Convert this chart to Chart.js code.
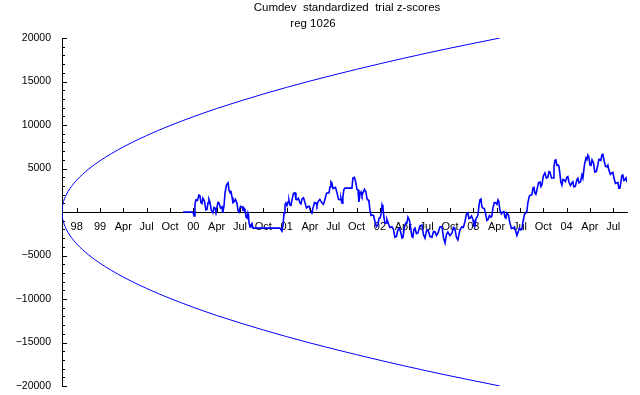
<!DOCTYPE html>
<html>
<head>
<meta charset="utf-8">
<script src="https://cdn.jsdelivr.net/npm/chart.js@4.4.0/dist/chart.umd.min.js"></script>
<style>
    body { margin: 0; background: #fff; }
</style>
</head>
<body>
<canvas id="myChart" width="640" height="395"></canvas>
<script>
// x axis runs in label steps: 0 = "98", 1 = "99", 2 = "Apr", ...
const quarterLabels = ['98', '99', 'Apr', 'Jul', 'Oct', '00', 'Apr', 'Jul', 'Oct', '01', 'Apr', 'Jul', 'Oct',
    '02', 'Apr', 'Jul', 'Oct', '03', 'Apr', 'Jul', 'Oct', '04', 'Apr', 'Jul'];
const yTicks = [-20000, -15000, -10000, -5000, 5000, 10000, 15000, 20000];

// probability envelope
const envX = [-0.6286, -0.62, -0.60, -0.55, -0.45, -0.3, 0, 0.5, 1, 2, 3, 4, 5, 6, 8, 10, 12, 14, 16, 18.14];
const envUpper = [0, 430, 780, 1290, 1950, 2650, 3660, 4900, 5890, 7480, 8790, 9930, 10950, 11890, 13560, 15050, 16400, 17660, 18830, 20000];
const envLower = [0, -430, -780, -1290, -1950, -2650, -3660, -4900, -5890, -7480, -8790, -9930, -10950, -11890, -13560, -15050, -16400, -17660, -18830, -20000];

// cumulative deviation (one line of x per line of y)
const walkX = [
    4.56, 4.99, 5.03, 5.07, 5.11, 5.175, 5.24, 5.285, 5.33, 5.37, 5.41, 5.475, 5.54, 5.585, 5.63, 5.67, 5.71, 5.775,
    5.84, 5.885, 5.93, 5.97, 6.01, 6.055, 6.10, 6.165, 6.23, 6.25, 6.27, 6.315, 6.36, 6.425, 6.49, 6.53, 6.57, 6.615, 6.66, 6.70,
    6.74, 6.805, 6.87, 6.915, 6.96, 7.025, 7.09, 7.13, 7.17, 7.215, 7.26, 7.30, 7.34, 7.365, 7.39, 7.43, 7.47, 7.515, 7.56,
    8.71, 8.80, 8.845, 8.89, 8.93, 8.97, 9.015, 9.06, 9.10, 9.14, 9.185, 9.23, 9.295, 9.36, 9.40, 9.44, 9.505, 9.57, 9.615,
    9.66, 9.725, 9.79, 9.85, 9.91, 9.975, 10.04, 10.085, 10.13, 10.195, 10.26, 10.30, 10.34, 10.425, 10.51, 10.575, 10.64, 10.705, 10.77, 10.815,
    10.86, 10.90, 10.94, 10.985, 11.03, 11.095, 11.16, 11.225, 11.29, 11.33, 11.37, 11.39, 11.41, 11.455, 11.50, 11.80, 11.84, 11.905,
    11.97, 12.015, 12.06, 12.10, 12.145, 12.19, 12.23, 12.27, 12.335, 12.40, 12.445, 12.49, 12.53, 12.57, 12.615, 12.66, 12.725, 12.79, 12.85,
    12.91, 12.955, 13.00, 13.045, 13.09, 13.13, 13.17, 13.215, 13.26, 13.30, 13.34, 13.425, 13.51, 13.575, 13.64, 13.705, 13.77, 13.835, 13.90, 13.945,
    13.99, 14.05, 14.11, 14.155, 14.20, 14.265, 14.33, 14.37, 14.41, 14.455, 14.50, 14.565, 14.63, 14.715, 14.80, 14.865, 14.93, 14.995, 15.06, 15.145,
    15.23, 15.295, 15.36, 15.425, 15.49, 15.575, 15.66, 15.725, 15.79, 15.85, 15.91, 16.00, 16.09, 16.15, 16.21, 16.275, 16.34, 16.425, 16.51, 16.575,
    16.64, 16.705, 16.77, 16.815, 16.86, 16.925, 16.99, 17.03, 17.07, 17.115, 17.16, 17.20, 17.24, 17.285, 17.33, 17.37, 17.41, 17.475, 17.54, 17.585,
    17.63, 17.695, 17.76, 17.80, 17.84, 17.905, 17.97, 18.015, 18.06, 18.10, 18.14, 18.205, 18.27, 18.315, 18.36, 18.40, 18.44, 18.505, 18.57, 18.635,
    18.70, 18.765, 18.83, 18.87, 18.91, 18.975, 19.04, 19.085, 19.13, 19.195, 19.26, 19.30, 19.34, 19.405, 19.47, 19.515, 19.56, 19.60, 19.64, 19.685,
    19.73, 19.795, 19.86, 19.90, 19.94, 20.005, 20.07, 20.135, 20.20, 20.245, 20.29, 20.355, 20.42, 20.46, 20.50, 20.54, 20.585, 20.63, 20.67,
    20.71, 20.755, 20.80, 20.845, 20.89, 20.95, 21.01, 21.055, 21.10, 21.165, 21.23, 21.27, 21.31, 21.375, 21.44, 21.485, 21.53, 21.595, 21.66,
    21.70, 21.765, 21.83, 21.87, 21.91, 21.955, 22.00, 22.045, 22.09, 22.15, 22.21, 22.275, 22.34, 22.385, 22.43, 22.47, 22.51, 22.555, 22.60, 22.665,
    22.73, 22.77, 22.81, 22.875, 22.94, 22.985, 23.03, 23.095, 23.16, 23.20, 23.24, 23.285, 23.33, 23.37, 23.41, 23.455, 23.50, 23.545, 23.59
];
const walkY = [
    0, 0, -450, 825, 1400, 1325, 1950, 1850, 1050, 975, 1600, 1275, 250, 300, 1050, 1450, 1150, 175,
    -100, 525, 450, 100, 450, 1100, 1050, 475, 600, 600, -100, 700, 2200, 3125, 3350, 2475, 2300, 2350, 1700, 1075,
    1150, 1450, 1050, 175, 0, 650, 600, 175, 450, 275, -600, -700, -100, -325, -1250, -1725, -1500, -1325, -1850,
    -1850, -2200, -1500, -100, 825, 1050, 750, 1150, 1325, 800, 750, 1400, 2150, 2200, 1450, 1400, 1575, 1050, 925,
    1500, 1625, 1050, 475, 600, 650, 0, -125, 450, 1100, 1050, 750, 1150, 1450, 1050, 875, 1400, 2150, 2200, 2200,
    2900, 3475, 3350, 2700, 2750, 2825, 2200, 1450, 1400, 1575, 1050, 1025, 1700, 2575, 2750, 2750, 3900, 3975,
    3350, 2600, 2550, 1150, 2075, 2300, 1900, 2200, 2600, 2300, 1500, 1400, 1175, 250, -400, -350, -400, -1150, -1675,
    -1500, -750, -700, -300, 800, 450, -600, -1275, -1250, -850, -1150, -1775, -1700, -1950, -2900, -2825, -2050, -1875, -2400, -3000,
    -2900, -1725, -1250, -1275, -600, -975, -2050, -2825, -2900, -2025, -1850, -2475, -2400, -1600, -1500, -2600, -3000, -2175, -2050, -2825,
    -2900, -2250, -2300, -2700, -2400, -1700, -1700, -2975, -3550, -2575, -2300, -2700, -2400, -1775, -1850, -2875, -3200, -2100, -1700, -1775,
    -1150, -275, -100, -750, -700, -450, -900, -1650, -1700, -800, -600, -350, 600, 1400, 1500, 625, 450, 400, -350, -975,
    -900, -400, -600, -425, 450, 1100, 1050, 875, 1400, 1175, 250, -225, 0, 50, -600, -700, -100, -325, -1250, -1900,
    -1850, -1725, -2300, -2700, -2400, -1875, -2050, -1950, -1150, -275, -100, 125, 1050, 1850, 1950, 2000, 2750, 2825, 2200, 2025,
    2550, 3350, 3450, 2925, 3100, 4150, 4500, 3900, 4000, 4650, 4600, 3900, 3900, 5200, 5950, 6000, 5350, 5400, 5300,
    4500, 3450, 3100, 3750, 3700, 3500, 4000, 4075, 3450, 3050, 3350, 3475, 2900, 2950, 3700, 3875, 3350, 3450, 4250,
    3900, 5400, 6200, 6025, 6550, 6325, 5400, 5350, 6000, 5650, 4600, 4650, 5400, 6050, 6000, 5925, 6550, 6625, 6000, 5250,
    5200, 5375, 4850, 4325, 4500, 4550, 3900, 3275, 3350, 3400, 2750, 2750, 3450, 4200, 4250, 3625, 3700, 3925, 3450
];

const toPoints = (xs, ys) => xs.map((x, i) => ({ x: x, y: ys[i] }));

// inward tick marks and the two title lines
const axisMarks = {
    id: 'axisMarks',
    afterDraw(chart) {
        const c = chart.ctx;
        const xs = chart.scales.x;
        const ys = chart.scales.y;
        const left = chart.chartArea.left;
        const zero = Math.round(ys.getPixelForValue(0));
        c.save();
        c.strokeStyle = '#000';
        c.lineWidth = 1;
        c.beginPath();
        for (let v = -20000; v <= 20000; v += 1000) {
            const y = Math.round(ys.getPixelForValue(v)) + 0.5;
            c.moveTo(left, y);
            c.lineTo(left + (v % 5000 === 0 ? 5 : 3), y);
        }
        quarterLabels.forEach((l, i) => {
            const x = Math.round(xs.getPixelForValue(i)) + 0.5;
            c.moveTo(x, zero);
            c.lineTo(x, zero - 4);
        });
        c.stroke();

        c.fillStyle = '#000';
        c.font = '11.5px "Liberation Sans", Arial, sans-serif';
        c.textAlign = 'center';
        c.textBaseline = 'middle';
        c.fillText('Cumdev  standardized  trial z-scores', 347, 8);
        c.fillText('reg 1026', 313, 24);
        c.restore();
    }
};

const ctx = document.getElementById('myChart').getContext('2d');
const chart = new Chart(ctx, {
    type: 'scatter',
    data: {
        datasets: [{
            data: toPoints(envX, envUpper),
            showLine: true,
            borderColor: '#0000ff',
            borderWidth: 1,
            pointRadius: 0,
            cubicInterpolationMode: 'monotone'
        }, {
            data: toPoints(envX, envLower),
            showLine: true,
            borderColor: '#0000ff',
            borderWidth: 1,
            pointRadius: 0,
            cubicInterpolationMode: 'monotone'
        }, {
            data: toPoints(walkX, walkY),
            showLine: true,
            borderColor: '#0000ff',
            borderWidth: 1.6,
            pointRadius: 0
        }]
    },
    options: {
        responsive: false,
        animation: false,
        devicePixelRatio: 1,
        layout: {
            padding: { top: 38, bottom: 9, left: 0, right: 13 }
        },
        plugins: {
            legend: { display: false },
            tooltip: { enabled: false }
        },
        scales: {
            x: {
                type: 'linear',
                position: { y: 0 },
                min: -0.6286,
                max: 23.59,
                grid: { display: false },
                border: { display: true, color: '#000', width: 1 },
                afterBuildTicks: function (scale) {
                    scale.ticks = quarterLabels.map((l, i) => ({ value: i }));
                },
                afterFit: function (scale) {
                    // axis sits on y = 0, so it should not take room at the bottom
                    scale.height = 0;
                },
                ticks: {
                    autoSkip: false,
                    maxRotation: 0,
                    padding: 0.5,
                    color: '#000',
                    font: { family: '"Liberation Sans", Arial, sans-serif', size: 11 },
                    callback: function (value) {
                        return quarterLabels[value];
                    }
                }
            },
            y: {
                position: 'left',
                min: -20000,
                max: 20000,
                // invisible tick marks only push the labels away from the axis
                grid: { display: true, drawOnChartArea: false, drawTicks: true, tickLength: 11, color: 'rgba(0,0,0,0)' },
                border: { display: true, color: '#000', width: 1 },
                afterBuildTicks: function (scale) {
                    scale.ticks = yTicks.map(v => ({ value: v }));
                },
                afterFit: function (scale) {
                    scale.width = 62;
                },
                ticks: {
                    padding: 0,
                    color: '#000',
                    font: { family: '"Liberation Sans", Arial, sans-serif', size: 10.5 },
                    callback: function (value) {
                        return value < 0 ? '\u2212' + Math.abs(value) : String(value);
                    }
                }
            }
        }
    },
    plugins: [axisMarks]
});
</script>
</body>
</html>
